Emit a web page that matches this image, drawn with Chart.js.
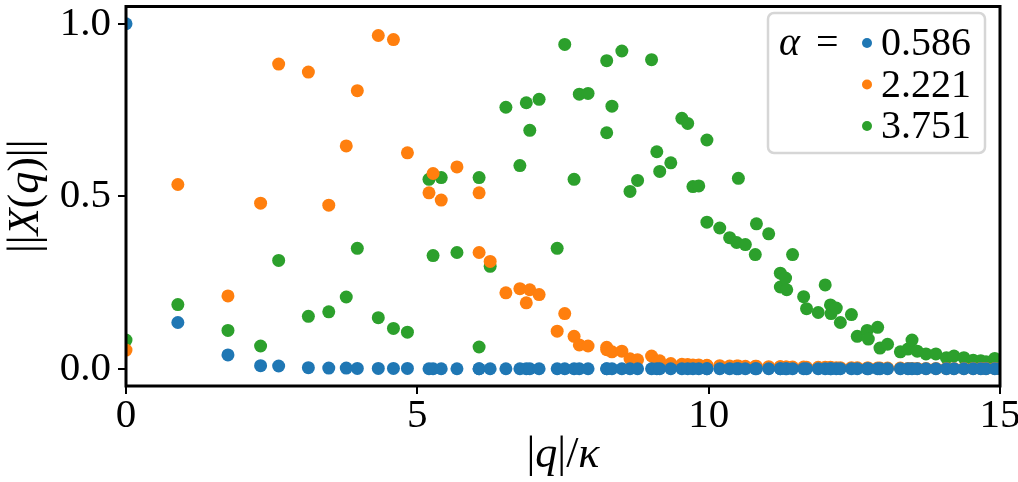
<!DOCTYPE html>
<html>
<head>
<meta charset="utf-8">
<script src="https://cdn.jsdelivr.net/npm/chart.js@4"></script>
<style>
    html, body { margin: 0; padding: 0; background: #fff; }
    #chart { display: block; }
</style>
</head>
<body>
<canvas id="chart" width="1018" height="482"></canvas>
<script>
// |q|/kappa values (shared by all three series)
const qValues = [
    0, 0.89, 1.75, 2.31, 2.62, 3.13, 3.48, 3.78, 3.97, 4.33, 4.59, 4.83,
    5.20, 5.27, 5.41, 5.68, 6.06, 6.06, 6.25, 6.52, 6.76, 6.87, 6.93, 7.09,
    7.40, 7.53, 7.69, 7.78, 7.93, 8.25, 8.25, 8.34, 8.51, 8.65, 8.78, 9.02,
    9.11, 9.16, 9.35, 9.54, 9.64, 9.73, 9.83, 9.97, 9.97, 10.19, 10.36, 10.48,
    10.51, 10.63, 10.80, 10.82, 11.03, 11.23, 11.23, 11.32, 11.34, 11.44, 11.63, 11.68,
    11.88, 12.00, 12.09, 12.10, 12.19, 12.26, 12.45, 12.55, 12.72, 12.74, 12.90, 12.94,
    13.07, 13.29, 13.42, 13.49, 13.58, 13.73, 13.90, 14.08, 14.21, 14.38, 14.54, 14.67,
    14.76, 14.91, 15.00
];

// ||X(q)|| for alpha = 0.586
const xAlpha0586 = [
    1.000, 0.134, 0.040, 0.009, 0.008, 0.003, 0.002, 0.002, 0.001, 0.001, 0.001, 0.001,
    0, 0, 0, 0, 0, 0, 0, 0, 0, 0, 0, 0,
    0, 0, 0, 0, 0, 0, 0, 0, 0, 0, 0, 0,
    0, 0, 0, 0, 0, 0, 0, 0, 0, 0, 0, 0,
    0, 0, 0, 0, 0, 0, 0, 0, 0, 0, 0, 0,
    0, 0, 0, 0, 0, 0, 0, 0, 0, 0, 0, 0,
    0, 0, 0, 0, 0, 0, 0, 0, 0, 0, 0, 0,
    0, 0, 0
];

// ||X(q)|| for alpha = 2.221
const xAlpha2221 = [
    0.054, 0.534, 0.211, 0.480, 0.883, 0.860, 0.474, 0.646, 0.806, 0.966, 0.954, 0.626,
    0.510, 0.566, 0.489, 0.585, 0.510, 0.337, 0.311, 0.220, 0.232, 0.191, 0.229, 0.215,
    0.109, 0.160, 0.094, 0.069, 0.066, 0.062, 0.055, 0.049, 0.051, 0.029, 0.026, 0.037,
    0.020, 0.023, 0.015, 0.013, 0.012, 0.011, 0.011, 0.010, 0.009, 0.009, 0.008, 0.008,
    0.008, 0.007, 0.007, 0.007, 0.006, 0.006, 0.006, 0.005, 0.005, 0.005, 0.005, 0.004,
    0.004, 0.004, 0.004, 0.003, 0.003, 0.003, 0.003, 0.003, 0.002, 0.002, 0.002, 0.002,
    0.002, 0.002, 0.001, 0.001, 0.001, 0.001, 0.001, 0.001, 0.001, 0.001, 0.001, 0.001,
    0.001, 0.001, 0.000
];

// ||X(q)|| for alpha = 3.751
const xAlpha3751 = [
    0.083, 0.186, 0.111, 0.066, 0.314, 0.152, 0.165, 0.208, 0.349, 0.148, 0.117, 0.106,
    0.549, 0.328, 0.554, 0.337, 0.554, 0.063, 0.297, 0.758, 0.589, 0.771, 0.691, 0.781,
    0.349, 0.940, 0.549, 0.796, 0.798, 0.893, 0.684, 0.761, 0.921, 0.514, 0.546, 0.896,
    0.629, 0.572, 0.597, 0.726, 0.711, 0.528, 0.530, 0.663, 0.425, 0.408, 0.380, 0.366,
    0.552, 0.360, 0.331, 0.420, 0.391, 0.277, 0.237, 0.263, 0.229, 0.331, 0.209, 0.174,
    0.163, 0.243, 0.185, 0.160, 0.176, 0.134, 0.157, 0.094, 0.111, 0.086, 0.120, 0.060,
    0.071, 0.049, 0.057, 0.083, 0.051, 0.043, 0.043, 0.032, 0.037, 0.032, 0.025, 0.023,
    0.020, 0.030, 0.020
];

const alphaLabels = ['0.586', '2.221', '3.751'];
const xTicks = [0, 5, 10, 15];
const yTicks = [0, 0.5, 1.0];

const SERIF = '"Liberation Serif", "DejaVu Serif", serif';
const colors = ['#1f77b4', '#ff7f0e', '#2ca02c'];

function toPoints(values) {
    return qValues.map((q, i) => ({ x: q, y: values[i] }));
}

// draw a run of [text, italic] pieces starting at x
function drawPieces(ctx, pieces, x, y, size) {
    pieces.forEach(p => {
        ctx.font = (p[1] ? 'italic ' : '') + size + 'px ' + SERIF;
        ctx.fillText(p[0], x, y);
        x += ctx.measureText(p[0]).width;
    });
}

function piecesWidth(ctx, pieces, size) {
    let w = 0;
    pieces.forEach(p => {
        ctx.font = (p[1] ? 'italic ' : '') + size + 'px ' + SERIF;
        w += ctx.measureText(p[0]).width;
    });
    return w;
}

// frame around the plot area
const framePlugin = {
    id: 'frame',
    afterDatasetsDraw(chart) {
        const a = chart.chartArea;
        const ctx = chart.ctx;
        ctx.save();
        ctx.strokeStyle = '#000';
        ctx.lineWidth = 3;
        ctx.strokeRect(a.left, a.top, a.right - a.left, a.bottom - a.top);
        ctx.restore();
    }
};

// axis titles with mixed italic / upright glyphs
const titlePlugin = {
    id: 'axisTitles',
    afterDraw(chart) {
        const ctx = chart.ctx;
        const a = chart.chartArea;
        const size = 44;
        ctx.save();
        ctx.fillStyle = '#000';
        ctx.textBaseline = 'middle';
        ctx.textAlign = 'left';

        const xTitle = [['|', false], ['q', true], ['|/', false], ['κ', true]];
        const xw = piecesWidth(ctx, xTitle, size);
        drawPieces(ctx, xTitle, (a.left + a.right) / 2 - xw / 2, 455, size);

        const yTitle = [['||', false], ['X', true], ['(', false], ['q', true], [')||', false]];
        const yw = piecesWidth(ctx, yTitle, size);
        ctx.translate(26, (a.top + a.bottom) / 2);
        ctx.rotate(-Math.PI / 2);
        drawPieces(ctx, yTitle, -yw / 2, 0, size);
        ctx.restore();
    }
};

// legend: "alpha = " followed by one marker per series
const legendPlugin = {
    id: 'alphaLegend',
    afterDraw(chart) {
        const ctx = chart.ctx;
        const boxX = 768, boxY = 13, boxW = 217, boxH = 140;
        ctx.save();
        ctx.beginPath();
        ctx.roundRect(boxX, boxY, boxW, boxH, 6);
        ctx.fillStyle = 'rgba(255,255,255,0.8)';
        ctx.fill();
        ctx.strokeStyle = '#d6d6d6';
        ctx.lineWidth = 2.5;
        ctx.stroke();

        ctx.fillStyle = '#000';
        ctx.textBaseline = 'alphabetic';
        ctx.textAlign = 'left';
        ctx.font = 'italic 40px ' + SERIF;
        ctx.fillText('α', 779, 55);
        ctx.font = '40px ' + SERIF;
        ctx.fillText('=', 816, 55);

        chart.data.datasets.forEach((ds, i) => {
            const rowY = 55 + i * 41.5;
            ctx.beginPath();
            ctx.arc(867, rowY - 12, 5, 0, Math.PI * 2);
            ctx.fillStyle = ds.backgroundColor;
            ctx.fill();
            ctx.fillStyle = '#000';
            ctx.font = '40px ' + SERIF;
            ctx.fillText(ds.label, 881, rowY);
        });
        ctx.restore();
    }
};

const datasets = [xAlpha0586, xAlpha2221, xAlpha3751].map((vals, i) => ({
    label: alphaLabels[i],
    data: toPoints(vals),
    backgroundColor: colors[i],
    borderColor: colors[i],
    pointRadius: 6.5,
    pointHoverRadius: 6.5,
    pointBorderWidth: 0,
    clip: 0
}));

const tickFont = { family: SERIF, size: 41, lineHeight: 1 };

new Chart(document.getElementById('chart'), {
    type: 'scatter',
    data: { datasets: datasets },
    options: {
        responsive: false,
        animation: false,
        devicePixelRatio: 1,
        layout: { padding: { top: 1, right: 18, left: 0, bottom: 0 } },
        plugins: {
            legend: { display: false },
            tooltip: { enabled: false }
        },
        scales: {
            x: {
                type: 'linear',
                min: 0,
                max: 15,
                afterBuildTicks: s => { s.ticks = xTicks.map(v => ({ value: v })); },
                afterFit: s => { s.height = 96; s.paddingLeft = 0; s.paddingRight = 0; },
                border: { display: false },
                grid: { drawOnChartArea: false, drawTicks: true, tickLength: 8, color: '#000', lineWidth: 2 },
                ticks: { color: '#000', font: tickFont, padding: 2, maxRotation: 0, callback: v => String(v) }
            },
            y: {
                type: 'linear',
                min: -0.05,
                max: 1.05,
                afterBuildTicks: s => { s.ticks = yTicks.map(v => ({ value: v })); },
                afterFit: s => { s.width = 126; s.paddingTop = 0; s.paddingBottom = 0; },
                border: { display: false },
                grid: { drawOnChartArea: false, drawTicks: true, tickLength: 8, color: '#000', lineWidth: 2 },
                ticks: { color: '#000', font: tickFont, padding: 7, callback: v => v.toFixed(1) }
            }
        }
    },
    plugins: [framePlugin, titlePlugin, legendPlugin]
});
</script>
</body>
</html>
